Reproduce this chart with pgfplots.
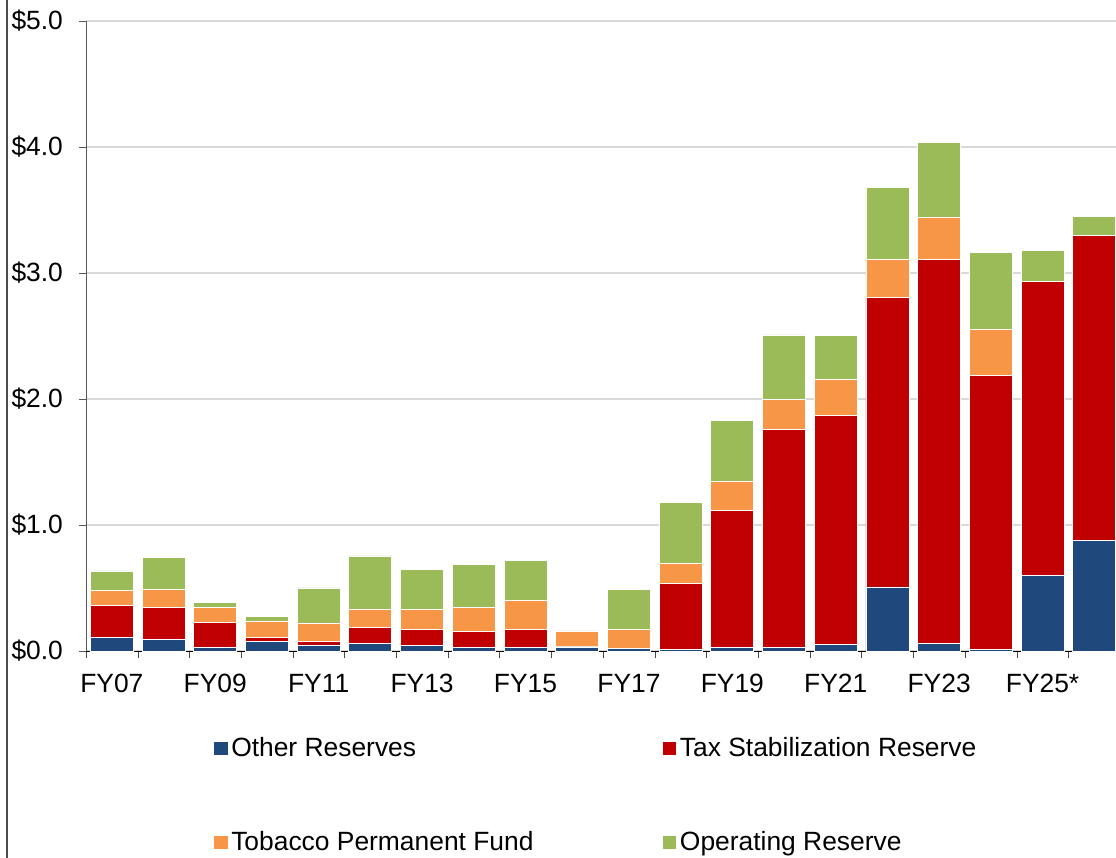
\documentclass[border=0pt]{standalone}
\usepackage{pgfplots}
\pgfplotsset{compat=1.18}
\usepackage{pgfplotstable}
\usepackage{fontspec}
\setmainfont{Liberation Sans}

\definecolor{cBlue}{HTML}{1F497D}
\definecolor{cRed}{HTML}{C00000}
\definecolor{cOrange}{HTML}{F79646}
\definecolor{cGreen}{HTML}{9BBB59}
\definecolor{cGrid}{HTML}{D9D9D9}

% reserves in $ billions, FY07 .. FY26
\pgfplotstableread{
x  other  tsr    tobacco  operating
0  0.110  0.250  0.120    0.155
1  0.093  0.254  0.143    0.251
2  0.029  0.196  0.122    0.039
3  0.079  0.027  0.132    0.037
4  0.048  0.026  0.148    0.278
5  0.061  0.124  0.148    0.421
6  0.045  0.124  0.162    0.317
7  0.029  0.124  0.194    0.341
8  0.026  0.146  0.228    0.320
9  0.032  0.003  0.124    0.000
10 0.019  0.003  0.150    0.318
11 0.010  0.524  0.159    0.484
12 0.026  1.088  0.230    0.484
13 0.029  1.728  0.239    0.512
14 0.053  1.817  0.286    0.347
15 0.508  2.301  0.300    0.569
16 0.063  3.046  0.334    0.595
17 0.010  2.176  0.369    0.606
18 0.596  2.338  0.000    0.246
19 0.874  2.424  0.000    0.150
}\reserves

\begin{document}
\begin{tikzpicture}
\begin{axis}[
  scale only axis, width=515pt, height=315pt,
  ybar stacked, bar width=21.5pt,
  xmin=-0.5, xmax=19.42, ymin=0, ymax=5,
  clip=false,
  axis x line*=bottom, axis y line*=left,
  x axis line style={black},
  y axis line style={black!65},
  tick align=outside,
  major tick length=3.5pt,
  xtick={-0.5,0.5,...,19.5}, xticklabels={},
  major x tick style={black!70},
  extra x ticks={0,2,...,18},
  extra x tick labels={FY07,FY09,FY11,FY13,FY15,FY17,FY19,FY21,FY23,FY25*},
  extra x tick style={tick style={draw=none}, grid=none},
  ytick={0,1,...,5},
  major y tick style={black!65},
  ymajorgrids, y grid style={cGrid, line width=0.6pt},
  /pgf/number format/assume math mode=true,
  yticklabel={\$\pgfmathprintnumber[fixed,fixed zerofill,precision=1]{\tick}},
  tick label style={font=\fontsize{13.2}{15}\selectfont},
  yticklabel style={xshift=-4.5pt},
  xticklabel style={yshift=-4.5pt},
  legend columns=2,
  legend cell align=left,
  legend image code/.code={\fill[#1,draw=none] (0pt,-3.3pt) rectangle (6.6pt,3.3pt);},
  legend style={draw=none, fill=none, at={(0.1185,-0.125)}, anchor=north west,
    font=\fontsize{13.2}{15}\selectfont, row sep=32pt,
    nodes={inner sep=1.8pt},
    /tikz/every even column/.append style={column sep=63pt}},
  every axis plot/.append style={draw=white, line width=0.4pt},
]
\addplot[fill=cBlue] table[x=x, y=other] {\reserves};
\addplot[fill=cRed] table[x=x, y=tsr] {\reserves};
\addplot[fill=cOrange] table[x=x, y=tobacco] {\reserves};
\addplot[fill=cGreen] table[x=x, y=operating] {\reserves};
\legend{Other Reserves, Tax Stabilization Reserve, Tobacco Permanent Fund, Operating Reserve}
\draw[black!70, line width=0.6pt] (rel axis cs:-0.0767,1.0333) -- (rel axis cs:-0.0767,-0.3286);
\coordinate (bbA) at (rel axis cs:-0.0835,-0.3286);
\coordinate (bbB) at (rel axis cs:1,1.0333);
\end{axis}
\pgfresetboundingbox
\path[use as bounding box] (bbA) rectangle (bbB);
\end{tikzpicture}
\end{document}
